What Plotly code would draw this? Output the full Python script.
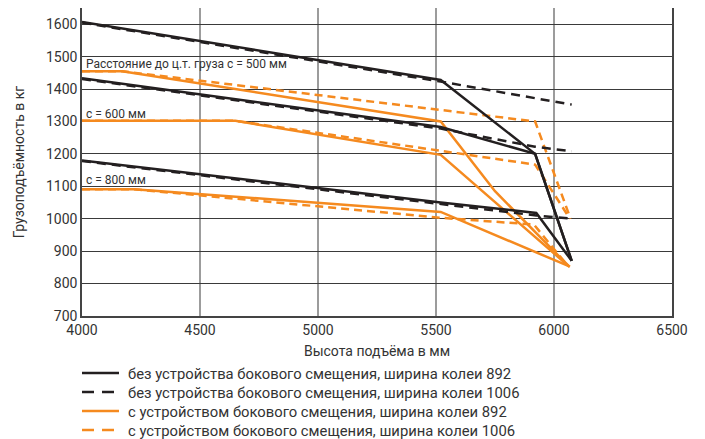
import plotly.graph_objects as go

# ---- data ----
# black solid: without side shift, track width 892 (c=500, 600, 800)
bs_500_x = [4000, 5520, 5920, 6075]
bs_500_y = [1607, 1428, 1200, 870]
bs_600_x = [4000, 5520, 5920, 6075]
bs_600_y = [1433, 1283, 1200, 870]
bs_800_x = [4000, 5520, 5925, 6075]
bs_800_y = [1180, 1050, 1018, 870]

# black dashed: without side shift, track width 1006
bd_500_x = [4000, 5520, 6075]
bd_500_y = [1605, 1423, 1352]
bd_600_x = [4000, 5520, 5920, 6075]
bd_600_y = [1431, 1278, 1222, 1208]
bd_800_x = [4000, 5520, 5925, 6075]
bd_800_y = [1178, 1047, 1010, 1000]

# orange solid: with side shift, track width 892
os_500_x = [4000, 4170, 5520, 5750, 6065]
os_500_y = [1455, 1455, 1300, 1085, 852]
os_600_x = [4000, 4650, 5520, 6065]
os_600_y = [1302, 1302, 1197, 852]
os_800_x = [4000, 4220, 5520, 6068]
os_800_y = [1091, 1091, 1021, 852]

# orange dashed: with side shift, track width 1006
od_500_x = [4000, 4170, 5920, 6070]
od_500_y = [1455, 1455, 1300, 1000]
od_600_x = [4000, 4650, 5920, 6065]
od_600_y = [1302, 1302, 1167, 1003]
od_800_x = [4000, 4220, 5520, 5915, 6050]
od_800_y = [1091, 1091, 1003, 982, 862]

legend_names = [
    "без устройства бокового смещения, ширина колеи 892",
    "без устройства бокового смещения, ширина колеи 1006",
    "с устройством бокового смещения, ширина колеи 892",
    "с устройством бокового смещения, ширина колеи 1006",
]

annotations_text = ["Расстояние до ц.т. груза с = 500 мм", "с = 600 мм", "с = 800 мм"]
annotations_y = [1476, 1324, 1119]

x_ticks = [4000, 4500, 5000, 5500, 6000, 6500]
y_ticks = [700, 800, 900, 1000, 1100, 1200, 1300, 1400, 1500, 1600]

BLACK = "#231f20"
ORANGE = "#f58a1f"
TEXT = "#333333"
FONT = "Roboto"

groups = [
    # (name index, color, dash, series list)
    (2, ORANGE, "solid", [(os_500_x, os_500_y), (os_600_x, os_600_y), (os_800_x, os_800_y)]),
    (3, ORANGE, "8px,5px", [(od_500_x, od_500_y), (od_600_x, od_600_y), (od_800_x, od_800_y)]),
    (1, BLACK, "9px,6px", [(bd_500_x, bd_500_y), (bd_600_x, bd_600_y), (bd_800_x, bd_800_y)]),
    (0, BLACK, "solid", [(bs_500_x, bs_500_y), (bs_600_x, bs_600_y), (bs_800_x, bs_800_y)]),
]
legend_style = {0: (BLACK, "solid"), 1: (BLACK, "dash"), 2: (ORANGE, "solid"), 3: (ORANGE, "dash")}

# The page places the figure 8px from the top-left corner of the window.
OFF = 8
FIG_W, FIG_H = 705 - OFF, 439 - OFF
M_L, M_R, M_T, M_B = 74, 33, 0, 123
H_PLOT = FIG_H - M_T - M_B
W_PLOT = FIG_W - M_L - M_R

def py(p):  # window pixel y -> paper y
    return (FIG_H - M_B - (p - OFF)) / H_PLOT

def px_(p):  # window pixel x -> paper x
    return (p - OFF - M_L) / W_PLOT

fig = go.Figure()
for idx, color, dash, series in groups:
    for k, (xs, ys) in enumerate(series):
        fig.add_trace(go.Scatter(
            x=xs, y=ys, mode="lines",
            line=dict(color=color, width=2.5, dash=dash),
            name=legend_names[idx], showlegend=False,
            hoverinfo="skip",
        ))

for txt, yv in zip(annotations_text, annotations_y):
    fig.add_annotation(x=4010, y=yv, text=txt, showarrow=False,
                       xanchor="left", yanchor="middle",
                       font=dict(family=FONT, size=12, color=TEXT))

row_y = [374, 393, 412, 431]
for i, name in enumerate(legend_names):
    color, dash = legend_style[i]
    fig.add_shape(type="line", xref="paper", yref="paper",
                  x0=px_(82), x1=px_(119), y0=py(row_y[i] - 1), y1=py(row_y[i] - 1),
                  line=dict(color=color, width=2.5,
                            dash="solid" if dash == "solid" else "12px,8px"))
    fig.add_annotation(xref="paper", yref="paper", x=px_(126), y=py(row_y[i]),
                       text=name, showarrow=False, xanchor="left", yanchor="middle",
                       font=dict(family=FONT, size=14.8, color=TEXT))

fig.update_layout(
    width=FIG_W, height=FIG_H,
    margin=dict(l=M_L, r=M_R, t=M_T, b=M_B, pad=0),
    paper_bgcolor="white", plot_bgcolor="white",
    font=dict(family=FONT, size=14, color=TEXT),
    showlegend=False,
    xaxis=dict(
        range=[4000, 6500], tickvals=x_ticks, ticktext=[str(v) for v in x_ticks],
        showgrid=True, gridcolor="#9c9c9c", gridwidth=1.5,
        showline=True, linecolor="#444444", linewidth=1.5, mirror=True,
        zeroline=False, ticks="", ticklen=0, automargin=False,
        tickfont=dict(family=FONT, size=14, color=TEXT),
        title=dict(text="Высота подъёма в мм", standoff=10,
                   font=dict(family=FONT, size=14, color=TEXT)),
    ),
    yaxis=dict(
        range=[700, 1650], tickvals=y_ticks, ticktext=[str(v) for v in y_ticks],
        showgrid=True, gridcolor="#3a3a3a", gridwidth=1,
        showline=True, linecolor="#444444", linewidth=1.5, mirror=True,
        zeroline=False, ticks="", ticklen=0, automargin=False,
        tickfont=dict(family=FONT, size=14, color=TEXT),
        title=dict(text="Грузоподъёмность в кг", standoff=18,
                   font=dict(family=FONT, size=14, color=TEXT)),
    ),
)

fig.write_html("out.html")
